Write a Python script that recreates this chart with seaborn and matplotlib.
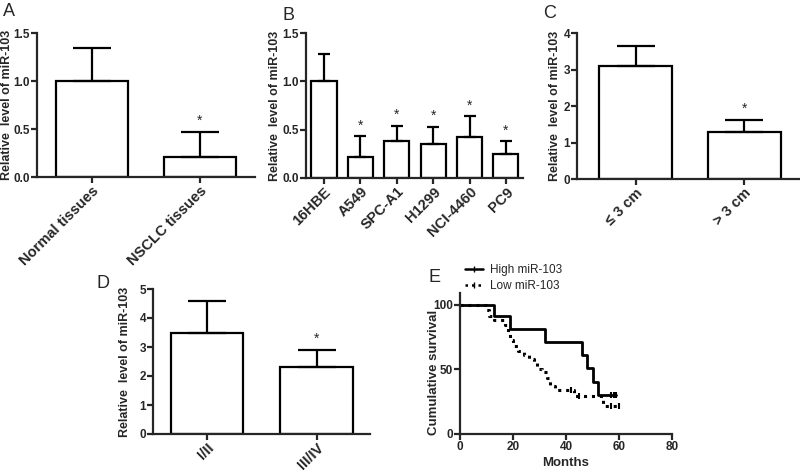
import numpy as np
import matplotlib
matplotlib.use("Agg")
import matplotlib.pyplot as plt
import seaborn as sns
from matplotlib.lines import Line2D

sns.set_style("ticks")
plt.rcParams["font.family"] = ["Liberation Sans", "DejaVu Sans"]

# ---- data ----
a_cats = ["Normal tissues", "NSCLC tissues"]
a_vals = [1.0, 0.21]
a_err = [0.34, 0.26]
a_sig = [False, True]

b_cats = ["16HBE", "A549", "SPC-A1", "H1299", "NCI-4460", "PC9"]
b_vals = [1.0, 0.21, 0.38, 0.35, 0.42, 0.25]
b_err = [0.28, 0.22, 0.16, 0.18, 0.22, 0.13]
b_sig = [False, True, True, True, True, True]

c_cats = ["\u2264 3 cm", "> 3 cm"]
c_vals = [3.1, 1.3]
c_err = [0.55, 0.32]
c_sig = [False, True]

d_cats = ["I/II", "III/IV"]
d_vals = [3.5, 2.3]
d_err = [1.08, 0.6]
d_sig = [False, True]

high_t = [0, 13, 19, 32, 46, 48, 50, 52, 59]
high_s = [100, 91, 81, 71, 61, 51, 40, 30, 30]
high_cens_t = [57, 58, 59]
high_cens_s = [30, 30, 30]

low_t = [0, 10, 11, 13, 17, 18, 19, 20, 22, 24, 26, 28, 29, 31, 33, 34, 36, 43, 54, 60]
low_s = [100, 96, 91, 88, 84, 79, 73, 68, 64, 61, 58, 55, 50, 48, 43, 37, 34, 29, 22, 22]
low_cens_t = [42, 45, 57, 60]
low_cens_s = [34, 29, 22, 22]

LW = 1.6
fig = plt.figure(figsize=(8, 4.73), dpi=100)


def style_axis(ax):
    sns.despine(ax=ax)
    for s in ["left", "bottom"]:
        ax.spines[s].set_linewidth(LW)
    ax.tick_params(width=LW, length=4, direction="out", pad=1)
    for lab in ax.get_yticklabels():
        lab.set_fontweight("bold")
        lab.set_fontsize(8.5)


def bar_panel(rect, cats, vals, err, sig, ylim, yticks, yfmt, xlim, width,
              capsize, letter, letter_xy, labelpad):
    ax = fig.add_axes(rect)
    sns.barplot(x=cats, y=vals, color="white", saturation=1, edgecolor="black",
                linewidth=LW, width=width, ax=ax)
    n = len(vals)
    ax.errorbar(np.arange(n), vals, yerr=[np.zeros(n), err], fmt="none",
                ecolor="black", elinewidth=LW, capsize=capsize, capthick=LW)
    for i in range(n):
        if sig[i]:
            ax.text(i, vals[i] + err[i] + (ylim[1] * 0.025), "*", ha="center",
                    va="bottom", fontsize=10)
    ax.set_ylim(*ylim)
    ax.set_xlim(*xlim)
    ax.set_yticks(yticks)
    ax.set_yticklabels([yfmt.format(v) for v in yticks])
    ax.set_ylabel("Relative  level of miR-103", fontsize=9, fontweight="bold",
                  labelpad=labelpad)
    ax.set_xlabel("")
    style_axis(ax)
    ax.set_xticks(np.arange(n))
    ax.set_xticklabels(cats, rotation=45, ha="right", rotation_mode="anchor",
                       fontsize=10.5, fontweight="bold")
    fig.text(letter_xy[0] / 800, 1 - letter_xy[1] / 473, letter, fontsize=13,
             ha="center", va="center")
    return ax


bar_panel([37 / 800, 1 - 177 / 473, 218 / 800, 144 / 473], a_cats, a_vals, a_err,
          a_sig, (0, 1.5), [0, 0.5, 1.0, 1.5], "{:.1f}", (-0.509, 1.509), 0.67,
          13.9, "A", (9, 12), 0.5)
bar_panel([306 / 800, 1 - 177.7 / 473, 217 / 800, 144.4 / 473], b_cats, b_vals,
          b_err, b_sig, (0, 1.5), [0, 0.5, 1.0, 1.5], "{:.1f}", (-0.496, 5.47),
          0.69, 4.6, "B", (288, 15), 1)
bar_panel([577 / 800, 1 - 179 / 473, 222 / 800, 146 / 473], c_cats, c_vals, c_err,
          c_sig, (0, 4), [0, 1, 2, 3, 4], "{:d}", (-0.539, 1.505), 0.67, 13.6,
          "C", (550, 14), 1.5)
bar_panel([153 / 800, 1 - 434 / 473, 217 / 800, 145 / 473], d_cats, d_vals, d_err,
          d_sig, (0, 5), [0, 1, 2, 3, 4, 5], "{:d}", (-0.493, 1.487), 0.66, 13.4,
          "D", (103, 283), 6)

# ---- survival panel ----
ax = fig.add_axes([460 / 800, 1 - 434 / 473, 212 / 800, 141 / 473])
sns.lineplot(x=high_t, y=high_s, drawstyle="steps-post", estimator=None,
             sort=False, color="black", lw=2, ax=ax)
sns.lineplot(x=low_t, y=low_s, drawstyle="steps-post", estimator=None,
             sort=False, color="black", lw=2.2, linestyle=(0, (1, 1.6)), ax=ax)
ax.plot(high_cens_t, high_cens_s, ls="none", marker="|", ms=5, mew=1.5,
        color="black")
ax.plot(low_cens_t, low_cens_s, ls="none", marker="|", ms=5, mew=1.5,
        color="black")
ax.set_xlim(0, 80)
ax.set_ylim(0, 109)
ax.set_xticks([0, 20, 40, 60, 80])
ax.set_yticks([0, 50, 100])
ax.set_xlabel("Months", fontsize=9.5, fontweight="bold", labelpad=3)
ax.set_ylabel("Cumulative survival", fontsize=9.5, fontweight="bold")
style_axis(ax)
ax.yaxis.set_label_coords(-0.094, 0.44)
for lab in ax.get_xticklabels():
    lab.set_fontweight("bold")
    lab.set_fontsize(8.5)

handles = [Line2D([], [], color="black", lw=1.8, marker="|", ms=4),
           Line2D([], [], color="black", lw=1.8, ls=(0, (1, 1.6)), marker="|", ms=4)]
fig.legend(handles, ["High miR-103", "Low miR-103"], loc="upper left",
           bbox_to_anchor=(459 / 800, 1 - 258 / 473), frameon=False,
           fontsize=8.5, handlelength=1.5, handletextpad=0.6, labelspacing=0.35,
           borderpad=0)
fig.text(435 / 800, 1 - 278 / 473, "E", fontsize=13, ha="center", va="center")

fig.savefig("out.png", dpi=100)
